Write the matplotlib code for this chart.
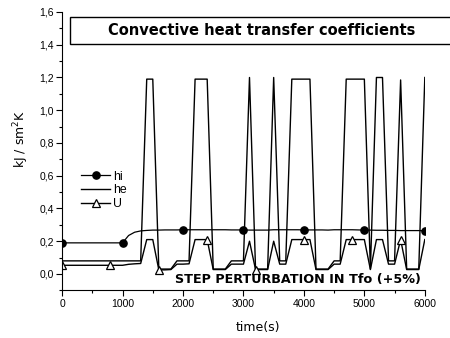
import numpy as np
import matplotlib
matplotlib.use('Agg')
import matplotlib.pyplot as plt
from matplotlib.patches import Rectangle
from matplotlib.ticker import MultipleLocator, FuncFormatter

# time grid (s), one sample every 100 s
time_s = np.arange(0, 6001, 100)

# internal coefficient hi
hi = [0.19] * 11 + [0.235, 0.255, 0.263, 0.266] + [
    0.268, 0.268, 0.269, 0.269, 0.269, 0.27, 0.27, 0.27, 0.27, 0.27,
    0.27, 0.27, 0.27, 0.269, 0.269, 0.269, 0.268, 0.268, 0.268, 0.268,
    0.27, 0.27, 0.27, 0.27, 0.27, 0.269, 0.269, 0.269, 0.269, 0.268,
    0.27, 0.27, 0.27, 0.27, 0.269, 0.268, 0.268, 0.267, 0.267, 0.266,
    0.266, 0.265, 0.265, 0.265, 0.265, 0.264]

# external coefficient he
he = [0.08] * 14 + [
    1.19, 1.19,                 # 1400-1500
    0.03, 0.03, 0.03,           # 1600-1800
    0.08, 0.08, 0.08,           # 1900-2100
    1.19, 1.19, 1.19,           # 2200-2400
    0.03, 0.03, 0.03,           # 2500-2700
    0.08, 0.08, 0.08,           # 2800-3000
    1.20,                       # 3100
    0.03, 0.03, 0.03,           # 3200-3400
    1.20,                       # 3500
    0.08, 0.08,                 # 3600-3700
    1.19, 1.19, 1.19, 1.19,     # 3800-4100
    0.03, 0.03, 0.03,           # 4200-4400
    0.08, 0.08,                 # 4500-4600
    1.19, 1.19, 1.19, 1.19,     # 4700-5000
    0.03,                       # 5100
    1.20, 1.20,                 # 5200-5300
    0.08, 0.08,                 # 5400-5500
    1.185,                      # 5600
    0.03, 0.03, 0.03,           # 5700-5900
    1.20]                       # 6000

# overall coefficient U
U = [0.053] * 11 + [0.059, 0.062, 0.064] + [
    0.21, 0.21,
    0.025, 0.025, 0.027,
    0.06, 0.06, 0.062,
    0.21, 0.21, 0.21,
    0.027, 0.027, 0.027,
    0.06, 0.06, 0.06,
    0.20,
    0.027, 0.027, 0.027,
    0.20,
    0.06, 0.06,
    0.21, 0.21, 0.21, 0.21,
    0.027, 0.027, 0.027,
    0.06, 0.06,
    0.21, 0.21, 0.21, 0.21,
    0.027,
    0.21, 0.21,
    0.06, 0.06,
    0.21,
    0.027, 0.027, 0.027,
    0.21]

y_ticks = [0.0, 0.2, 0.4, 0.6, 0.8, 1.0, 1.2, 1.4, 1.6]

tick_font = 'Liberation Sans'
label_font = 'DejaVu Sans'

fig = plt.figure(figsize=(4.5, 3.38), dpi=100)
ax = fig.add_axes([0.138, 0.141, 0.806, 0.8235])

ax.plot(time_s, hi, color='black', lw=0.9, marker='o', markersize=5.2,
        markevery=10, markerfacecolor='black', label='hi')
ax.plot(time_s, he, color='black', lw=1.0, label='he')
ax.plot(time_s, U, color='black', lw=1.0, marker='^', markersize=6,
        markevery=8, markerfacecolor='white', markeredgewidth=0.9, label='U')

ax.set_xlim(0, 6000)
ax.set_ylim(-0.1, 1.6)
ax.spines['top'].set_visible(False)
ax.spines['right'].set_visible(False)
ax.xaxis.set_major_locator(MultipleLocator(1000))
ax.xaxis.set_minor_locator(MultipleLocator(500))
ax.set_yticks(y_ticks)
ax.yaxis.set_minor_locator(MultipleLocator(0.1))
ax.yaxis.set_major_formatter(FuncFormatter(lambda v, p: f"{v:.1f}".replace('.', ',')))
ax.tick_params(which='major', length=4, width=0.8, labelsize=7.5, pad=2)
ax.tick_params(which='minor', length=2, width=0.8)
for lab in ax.get_xticklabels() + ax.get_yticklabels():
    lab.set_fontfamily(tick_font)

leg = ax.legend(loc='upper left', bbox_to_anchor=(0.035, 0.452), frameon=False,
                prop={'family': tick_font, 'size': 8.8}, handlelength=2.4,
                handletextpad=0.25, labelspacing=0.15, borderpad=0)

fig.text(21 / 450, 0.59, 'kJ / sm$^2$K', rotation=90, ha='center', va='center',
         fontsize=9, family=label_font)
fig.text(258 / 450, 1 - 327 / 338, 'time(s)', ha='center', va='center',
         fontsize=9, family=label_font)

# title box
fig.patches.append(Rectangle((70 / 450, 1 - 44 / 338), 0.9, 26.7 / 338,
                             transform=fig.transFigure, facecolor='white',
                             edgecolor='black', lw=1.0, zorder=5))
fig.text(262 / 450, 1 - 30.6 / 338, 'Convective heat transfer coefficients',
         ha='center', va='center', fontsize=10.5, fontweight='bold',
         family=label_font, zorder=6)
fig.text(298 / 450, 1 - 280 / 338, 'STEP PERTURBATION IN Tfo (+5%)',
         ha='center', va='center', fontsize=9.2, fontweight='bold',
         family=label_font)

fig.savefig('out.png', dpi=100, facecolor='white')
